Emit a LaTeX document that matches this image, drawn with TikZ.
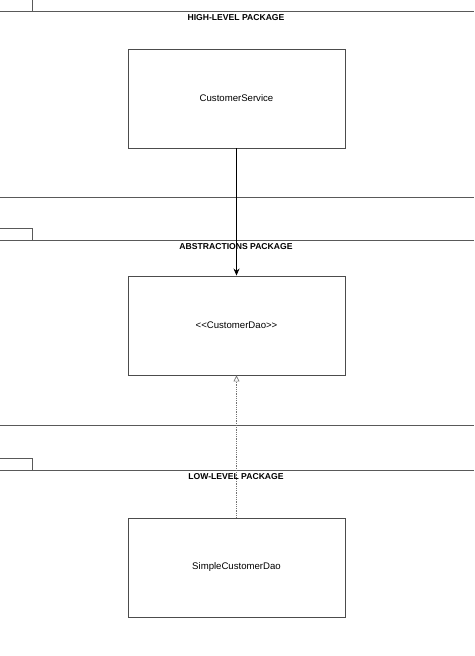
\documentclass[tikz,border=0pt]{standalone}
\usepackage{fontspec}
\setmainfont{Liberation Sans}
\usetikzlibrary{arrows.meta}
\begin{document}
\begin{tikzpicture}[x=1pt,y=-1pt,
  pkgline/.style={draw=black!65, line width=0.9pt},
  classbox/.style={draw=black!70, line width=0.9pt, minimum width=217pt, minimum height=99pt, font=\fontsize{9.6}{11}\selectfont, inner sep=0pt},
  pkgtitle/.style={font=\bfseries\fontsize{8.6}{10}\selectfont, inner sep=0pt, anchor=center},
  dep/.style={draw=black, line width=0.8pt, -{Stealth[length=7pt,width=6pt]}},
  real/.style={draw=black!55, line width=0.8pt, densely dotted, -{Triangle[open,length=6pt,width=6pt,line width=0.7pt]}}]
\useasboundingbox (0,0) rectangle (474,656);
% top package
\draw[pkgline] (32,0) -- (32,11);
\draw[pkgline] (0,11) -- (474,11);
\draw[pkgline] (0,197) -- (474,197);
% middle package
\draw[pkgline] (0,228) -- (32,228) -- (32,240);
\draw[pkgline] (0,240) -- (474,240);
\draw[pkgline] (0,425) -- (474,425);
% bottom package
\draw[pkgline] (0,458) -- (32,458) -- (32,470);
\draw[pkgline] (0,470) -- (474,470);
\node[pkgtitle] (t1) at (236,17.5) {HIGH-LEVEL PACKAGE};
\node[pkgtitle] (t2) at (236,246.5) {ABSTRACTIONS PACKAGE};
\node[pkgtitle] (t3) at (236,476.5) {LOW-LEVEL PACKAGE};
\node[classbox] (cs) at (236.5,98.5) {CustomerService};
\node[classbox] (cd) at (236.5,325.5) {<{}<CustomerDao>{}>};
\node[classbox] (scd) at (236.5,567.5) {SimpleCustomerDao};
\draw[dep] (cs.south) -- (cd.north);
\draw[real] (scd.north) -- (cd.south);
\end{tikzpicture}
\end{document}
